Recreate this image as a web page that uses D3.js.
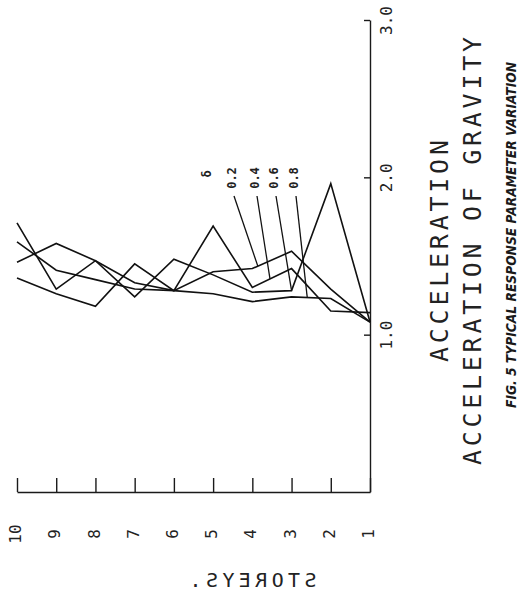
<!DOCTYPE html>
<html>
<head>
<meta charset="utf-8">
<script src="https://cdn.jsdelivr.net/npm/d3@7"></script>
<style>
    body { margin: 0; background: #fff; }
    svg { display: block; }
    .axis path, .axis line { stroke: #1a1a1a; stroke-width: 1.4; fill: none; }
    .series { fill: none; stroke: #111; stroke-width: 1.6; }
    .leader { stroke: #111; stroke-width: 1.3; }
    .mono { font-family: "DejaVu Sans Mono", monospace; fill: #222; }
</style>
</head>
<body>
<div id="chart"></div>
<script>
// storey numbers, 1 = ground
var storeys = [1, 2, 3, 4, 5, 6, 7, 8, 9, 10];

// acceleration / g for each value of delta
var delta02 = [1.08, 1.29, 1.53, 1.42, 1.40, 1.28, 1.33, 1.47, 1.58, 1.46];
var delta04 = [1.14, 1.15, 1.42, 1.30, 1.69, 1.28, 1.29, 1.35, 1.41, 1.59];
var delta06 = [1.08, 1.96, 1.28, 1.27, 1.38, 1.48, 1.24, 1.47, 1.29, 1.71];
var delta08 = [1.08, 1.23, 1.24, 1.21, 1.26, 1.28, 1.45, 1.18, 1.26, 1.36];

var deltaLabels = ["0.2", "0.4", "0.6", "0.8"];
// storey position where each label's leader touches its line
var leaderStoreys = [3.86, 3.55, 3.0, 2.6];

var accelTicks = [1, 2, 3];
var storeyTicks = storeys;

var titleTop = "ACCELERATION";
var titleBottom = "ACCELERATION OF GRAVITY";
var storeyTitle = "STOREYS.";
var caption = "FIG. 5  TYPICAL RESPONSE PARAMETER VARIATION";

var width = 527, height = 604;

var svg = d3.select("#chart").append("svg")
        .attr("width", width)
        .attr("height", height);

// the figure is printed turned on its side: storeys run right to left
var xScale = d3.scaleLinear().domain([1, 10]).range([370, 17]);
var yScale = d3.scaleLinear().domain([0, 3]).range([492, 20]);

var table = [delta02, delta04, delta06, delta08].map(function (v, i) {
    return {label: deltaLabels[i], values: v, at: leaderStoreys[i]};
});

renderAxes();
renderLines();
renderLeaders();
renderTitles();

function renderAxes() {
    var xAxis = d3.axisBottom(xScale)
            .tickValues(storeyTicks)
            .tickSizeInner(-14)
            .tickSizeOuter(0)
            .tickFormat(d3.format("d"));

    var gx = svg.append("g")
            .attr("class", "x axis")
            .attr("transform", "translate(0," + yScale(0) + ")")
            .call(xAxis);

    gx.selectAll("text")
            .attr("class", "mono")
            .attr("y", null)
            .attr("dy", "0.35em")
            .attr("font-size", 16)
            .attr("text-anchor", "middle")
            .attr("transform", "translate(-2,42) rotate(-90)");

    var yAxis = d3.axisRight(yScale)
            .tickValues(accelTicks)
            .tickSizeInner(-6)
            .tickSizeOuter(0)
            .tickFormat(d3.format(".1f"));

    var gy = svg.append("g")
            .attr("class", "y axis")
            .attr("transform", "translate(" + xScale(1) + ",0)")
            .call(yAxis);

    gy.selectAll("text")
            .attr("class", "mono")
            .attr("x", null)
            .attr("dy", "0.35em")
            .attr("font-size", 16)
            .attr("text-anchor", "middle")
            .attr("transform", "translate(16,0) rotate(-90)");
}

function renderLines() {
    var line = d3.line()
            .x(function (d, i) { return xScale(storeys[i]); })
            .y(function (d) { return yScale(d); });

    svg.append("g").selectAll("path.series")
            .data(table)
            .enter()
            .append("path")
            .attr("class", "series")
            .attr("d", function (d) { return line(d.values); });
}

function renderLeaders() {
    var labelX = [232, 255, 274, 294];
    var topY = 196;

    var g = svg.append("g");

    table.forEach(function (d, i) {
        var along = d3.scaleLinear().domain(storeys).range(d.values);
        g.append("line")
                .attr("class", "leader")
                .attr("x1", labelX[i] + 2)
                .attr("y1", topY)
                .attr("x2", xScale(d.at))
                .attr("y2", yScale(along(d.at)));

        g.append("text")
                .attr("class", "mono")
                .attr("font-size", 12)
                .attr("font-weight", "bold")
                .attr("text-anchor", "middle")
                .attr("dy", "0.35em")
                .attr("transform", "translate(" + labelX[i] + ",178) rotate(-90)")
                .text(d.label);
    });

    g.append("text")
            .attr("class", "mono")
            .attr("font-size", 12)
            .attr("font-weight", "bold")
            .attr("text-anchor", "middle")
            .attr("dy", "0.35em")
            .attr("transform", "translate(207,174) rotate(-90)")
            .text("\u03b4");
}

function renderTitles() {
    var cy = 251;

    svg.append("text")
            .attr("class", "mono")
            .attr("font-size", 25)
            .attr("text-anchor", "middle")
            .attr("dy", "0.35em")
            .attr("textLength", 222)
            .attr("lengthAdjust", "spacing")
            .attr("transform", "translate(439," + cy + ") rotate(-90)")
            .text(titleTop);

    svg.append("text")
            .attr("class", "mono")
            .attr("font-size", 25)
            .attr("text-anchor", "middle")
            .attr("dy", "0.35em")
            .attr("textLength", 428)
            .attr("lengthAdjust", "spacing")
            .attr("transform", "translate(472," + cy + ") rotate(-90)")
            .text(titleBottom);

    svg.append("text")
            .attr("font-family", "'Liberation Sans Narrow', 'DejaVu Sans Condensed', sans-serif")
            .attr("font-size", 14)
            .attr("font-weight", "bold")
            .attr("font-style", "italic")
            .attr("fill", "#1a1a1a")
            .attr("text-anchor", "middle")
            .attr("dy", "0.35em")
            .attr("textLength", 346)
            .attr("lengthAdjust", "spacingAndGlyphs")
            .attr("transform", "translate(511,235) rotate(-90)")
            .text(caption);

    // storey title is printed mirrored
    svg.append("text")
            .attr("class", "mono")
            .attr("font-size", 20)
            .attr("text-anchor", "middle")
            .attr("textLength", 127)
            .attr("lengthAdjust", "spacing")
            .attr("transform", "translate(253,587) scale(-1,1)")
            .text(storeyTitle);
}
</script>
</body>
</html>
